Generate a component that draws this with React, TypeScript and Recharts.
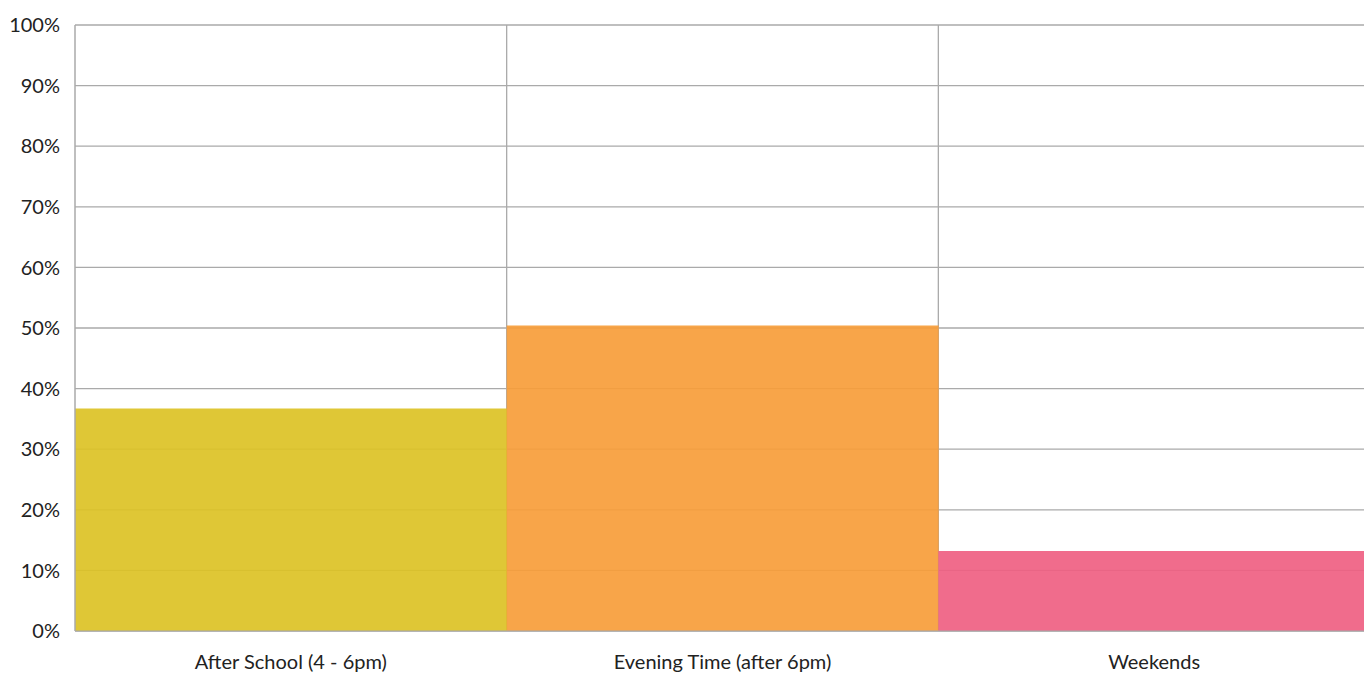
import React from "react";
import { BarChart, Bar, XAxis, YAxis, CartesianGrid, Cell } from "recharts";

const categories = ["After School (4 - 6pm)", "Evening Time (after 6pm)", "Weekends"];
const shares = [36.7, 50.4, 13.2];
const colors = ["#DCC225", "#F79D3A", "#EF5F82"];
const yTicks = [0, 10, 20, 30, 40, 50, 60, 70, 80, 90, 100];

const data = categories.map((name, i) => ({ name, value: shares[i] }));

const FONT = "Lato, 'Open Sans', sans-serif";

// vertical grid lines sit on the boundaries between categories
const boundaryLines = ({ offset }: any) => {
  const n = categories.length;
  const out: number[] = [];
  for (let i = 1; i < n; i++) out.push(offset.left + (offset.width * i) / n);
  return out;
};

export default function App() {
  return (
    <div
      style={{
        position: "absolute",
        left: 0,
        top: 0,
        width: 1364,
        height: 675,
        overflow: "hidden",
        background: "#fff",
      }}
    >
      <BarChart
        width={1370}
        height={675}
        data={data}
        margin={{ top: 25, right: 0, left: 0, bottom: 0 }}
        barCategoryGap={0}
      >
        <CartesianGrid
          stroke="#aaaaaa"
          strokeWidth={1.3}
          verticalCoordinatesGenerator={boundaryLines}
        />
        <XAxis
          dataKey="name"
          height={44}
          tickLine={false}
          tickSize={0}
          tickMargin={24}
          axisLine={{ stroke: "#aaaaaa" }}
          tick={{ fill: "#222", fontSize: 20, fontFamily: FONT }}
          interval={0}
        />
        <YAxis
          width={75}
          domain={[0, 100]}
          ticks={yTicks}
          tickFormatter={(v: number) => `${v}%`}
          tickLine={false}
          tickSize={0}
          tickMargin={15}
          axisLine={{ stroke: "#aaaaaa", strokeWidth: 1.5 }}
          tick={{ fill: "#222", fontSize: 20, fontFamily: FONT }}
          interval={0}
        />
        <Bar dataKey="value" isAnimationActive={false} fillOpacity={0.92}>
          {data.map((d, i) => (
            <Cell key={d.name} fill={colors[i]} />
          ))}
        </Bar>
      </BarChart>
    </div>
  );
}
